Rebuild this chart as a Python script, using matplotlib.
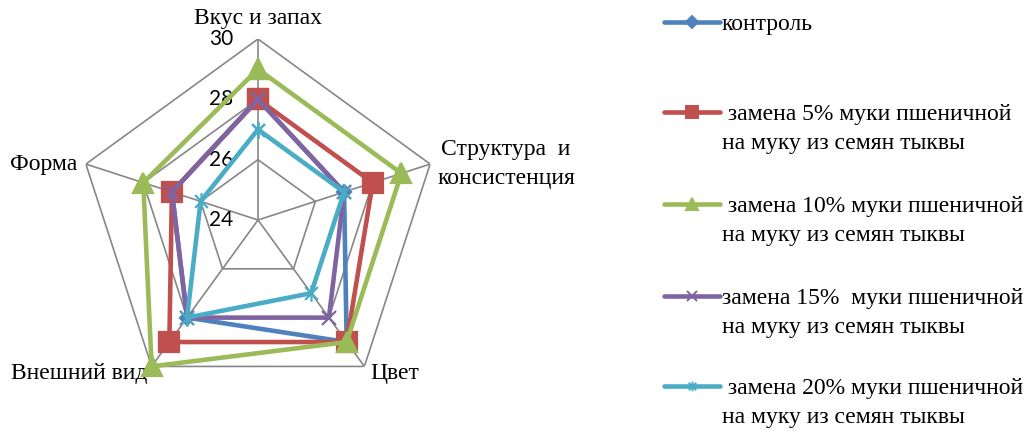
import matplotlib.pyplot as plt
import numpy as np
from matplotlib.lines import Line2D
from matplotlib.path import Path

plt.rcParams['font.family'] = ['Liberation Serif', 'DejaVu Serif']

# оценочные показатели, баллы
criteria = ['Вкус и запах', 'Структура  и\nконсистенция', 'Цвет', 'Внешний вид', 'Форма']
labels = ['контроль',
          ' замена 5% муки пшеничной\nна муку из семян тыквы',
          ' замена 10% муки пшеничной\nна муку из семян тыквы',
          'замена 15%  муки пшеничной\nна муку из семян тыквы',
          ' замена 20% муки пшеничной\nна муку из семян тыквы']
control = [28, 27, 29, 28, 27]
sub5 = [28, 28, 29, 29, 27]
sub10 = [29, 29, 29, 30, 28]
sub15 = [28, 27, 28, 28, 27]
sub20 = [27, 27, 27, 28, 26]
r_ticks = [24, 26, 28, 30]

# asterisk-like marker: x with a vertical stroke
star = Path([(-1, -1), (1, 1), (-1, 1), (1, -1), (0, -1.3), (0, 1.3)],
            [Path.MOVETO, Path.LINETO, Path.MOVETO, Path.LINETO, Path.MOVETO, Path.LINETO])

series = [control, sub5, sub10, sub15, sub20]
colors = ['#4F81BD', '#C0504D', '#9BBB59', '#8064A2', '#4BACC6']
markers = ['D', 's', '^', 'x', star]
msizes = [7, 14, 14, 10, 12]
leg_ms = [6, 8, 8, 7, 7]

W, H = 1035, 432
fig = plt.figure(figsize=(W / 100, H / 100), dpi=100)
cx, cy, R = 258, 220, 181
ax = fig.add_axes([(cx - R) / W, (H - cy - R) / H, 2 * R / W, 2 * R / H], projection='polar')
ax.set_theta_offset(np.pi / 2)
ax.set_theta_direction(-1)
ax.set_ylim(r_ticks[0], r_ticks[-1])
ax.grid(False)
ax.spines['polar'].set_visible(False)
ax.set_xticks([])
ax.set_yticks([])
ax.patch.set_visible(False)

n = len(criteria)
theta = np.arange(n) * 2 * np.pi / n
theta_c = np.append(theta, theta[0])

grid_c = '#878787'
for t in theta:
    ax.plot([t, t], [r_ticks[0], r_ticks[-1]], color=grid_c, lw=1.2, zorder=1)
for rv in r_ticks[1:]:
    ax.plot(theta_c, [rv] * (n + 1), color=grid_c, lw=1.2, zorder=1)

for rv in r_ticks:
    ax.annotate(str(rv), (0, rv), xytext=(-18, 0), textcoords='offset points',
                ha='right', va='center', fontsize=15, family=['Lato', 'DejaVu Sans'])

# подписи осей
offsets = [((0, 15), 'center'), ((5, 0), 'left'), ((4, -5), 'left'),
           ((-3, -5), 'right'), ((-6, 0), 'right')]
for t, name, (off, ha) in zip(theta, criteria, offsets):
    ax.annotate(name, (t, r_ticks[-1]), xytext=off, textcoords='offset points',
                ha=ha, va='center', fontsize=17, multialignment='center',
                linespacing=1.5, annotation_clip=False)

for vals, c, m, ms in zip(series, colors, markers, msizes):
    ax.plot(theta_c, vals + vals[:1], color=c, lw=3.3, marker=m, ms=ms,
            mec=c, mfc=c, mew=1.6, clip_on=False, zorder=3)

# легенда справа
leg_y = [22, 112, 204, 296, 386]
for lab, c, m, ms, y in zip(labels, colors, markers, leg_ms, leg_y):
    yf = 1 - y / H
    fig.add_artist(Line2D([664 / W, 720 / W], [yf, yf], color=c, lw=3.3,
                          solid_capstyle='round'))
    fig.add_artist(Line2D([692 / W], [yf], marker=m, ms=ms, color=c, mec=c, mfc=c, mew=1.4))
    fig.text(722 / W, 1 - (y - 8) / H, lab, ha='left', va='top', fontsize=17,
             linespacing=1.5)

fig.savefig('out.png', dpi=100)
